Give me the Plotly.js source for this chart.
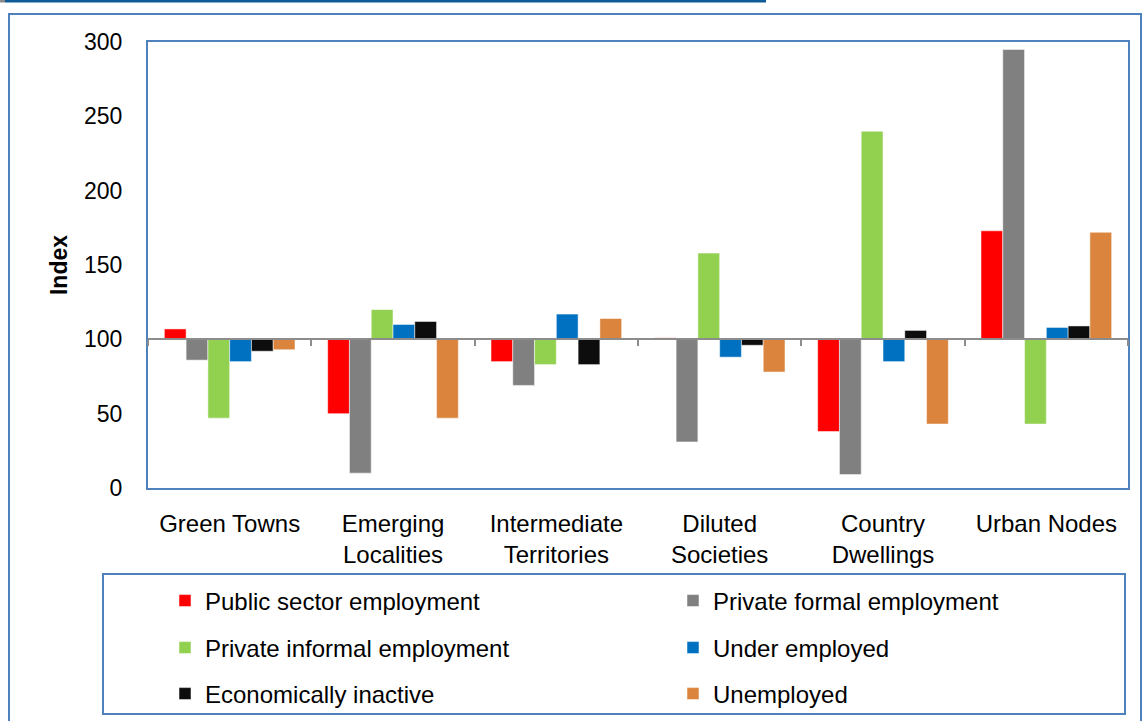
<!DOCTYPE html>
<html>
<head>
<meta charset="utf-8">
<script src="https://cdn.plot.ly/plotly-3.0.1.min.js"></script>
<style>
html,body{margin:0;padding:0;background:#fff;}
#chart{width:1142px;height:721px;}
</style>
</head>
<body>
<div id="chart"></div>
<script>
// ---- data ----
const categories = ["Green Towns", "Emerging<br>Localities", "Intermediate<br>Territories", "Diluted<br>Societies", "Country<br>Dwellings", "Urban Nodes"];
const seriesNames = ["Public sector employment", "Private formal employment", "Private informal employment", "Under employed", "Economically inactive", "Unemployed"];
const publicSector   = [107, 50, 85, 101, 38, 173];
const privateFormal  = [86, 10, 69, 31, 9, 295];
const privateInformal= [47, 120, 83, 158, 240, 43];
const underEmployed  = [85, 110, 117, 88, 85, 108];
const econInactive   = [92, 112, 83, 96, 106, 109];
const unemployed     = [93, 47, 114, 78, 43, 172];
const baseline = 100;
const yTicks = [0, 50, 100, 150, 200, 250, 300];

const seriesValues = [publicSector, privateFormal, privateInformal, underEmployed, econInactive, unemployed];
const colors = ["#ff0000", "#808080", "#92d050", "#0070c0", "#0d0d0d", "#db843d"];
const legendIds = ["legend", "legend2", "legend3", "legend4", "legend5", "legend6"];

const traces = seriesValues.map((vals, i) => ({
  type: "bar",
  name: seriesNames[i],
  x: categories,
  y: vals.map(v => v - baseline),
  base: baseline,
  marker: {color: colors[i], line: {color: "rgba(255,255,255,0.5)", width: 1}},
  legend: legendIds[i],
  hoverinfo: "skip"
}));

// helper trace to render the baseline axis at 100
traces.push({
  type: "scatter", mode: "none", x: categories, y: categories.map(() => null),
  xaxis: "x2", yaxis: "y", showlegend: false, hoverinfo: "skip"
});

const L = 148, T = 42, W = 980, H = 446;
const px = x => (x - L) / W;
const py = y => (T + H - y) / H;

const legendCommon = {
  orientation: "h",
  font: {family: "Liberation Sans, Arial, sans-serif", size: 24, color: "#000"},
  bgcolor: "rgba(0,0,0,0)", borderwidth: 0,
  xanchor: "left", yanchor: "middle", itemclick: false, itemdoubleclick: false
};
const legendCols = [165, 673];
const legendRows = [601, 648, 694];
const legendLayouts = {};
legendIds.forEach((id, i) => {
  legendLayouts[id] = Object.assign({}, legendCommon, {
    x: px(legendCols[i % 2]), y: py(legendRows[Math.floor(i / 2)])
  });
});

const layout = Object.assign({
  width: 1142, height: 721,
  margin: {l: L, r: 1142 - L - W, t: T, b: 721 - T - H, autoexpand: false},
  paper_bgcolor: "#fff", plot_bgcolor: "#fff",
  font: {family: "Liberation Sans, Arial, sans-serif", color: "#000"},
  barmode: "group", bargap: 0.2, bargroupgap: 0,
  showlegend: true,
  xaxis: {
    type: "category", showgrid: false, zeroline: false,
    showline: true, mirror: true, linecolor: "#4f81bd", linewidth: 2,
    ticks: "outside", ticklen: 13, tickcolor: "rgba(0,0,0,0)",
    tickfont: {size: 24, color: "#000"}, fixedrange: true
  },
  xaxis2: {
    type: "category", overlaying: "x", matches: "x", anchor: "free", position: baseline / 300,
    showline: true, linecolor: "#8c8c8c", linewidth: 2,
    ticks: "outside", ticklen: 6, tickwidth: 2, tickcolor: "#8c8c8c", tickson: "boundaries",
    showticklabels: false, showgrid: false, zeroline: false, fixedrange: true
  },
  yaxis: {
    range: [0, 300], tickvals: yTicks, showgrid: false, zeroline: false,
    showline: true, mirror: true, linecolor: "#4f81bd", linewidth: 2,
    ticks: "outside", ticklen: 19, tickcolor: "rgba(0,0,0,0)",
    tickfont: {size: 23, color: "#000"},
    title: {text: "<b>Index</b>", font: {size: 23, color: "#000"}, standoff: 10},
    fixedrange: true
  },
  shapes: [
    // outer chart border
    {type: "rect", xref: "paper", yref: "paper", x0: px(9), x1: px(1141), y0: py(14), y1: py(730),
     line: {color: "#4f81bd", width: 2}, layer: "below"},
    // legend box
    {type: "rect", xref: "paper", yref: "paper", x0: px(103), x1: px(1125), y0: py(574), y1: py(714),
     line: {color: "#4f81bd", width: 2}},
    // header rule
    {type: "line", xref: "paper", yref: "paper", x0: px(5), x1: px(766), y0: py(1), y1: py(1),
     line: {color: "#0f5a98", width: 3}},
    {type: "line", xref: "paper", yref: "paper", x0: px(0), x1: px(5), y0: py(1), y1: py(1),
     line: {color: "#8c8c8c", width: 3}}
  ]
}, legendLayouts);

Plotly.newPlot("chart", traces, layout, {displayModeBar: false, staticPlot: true});
</script>
</body>
</html>
